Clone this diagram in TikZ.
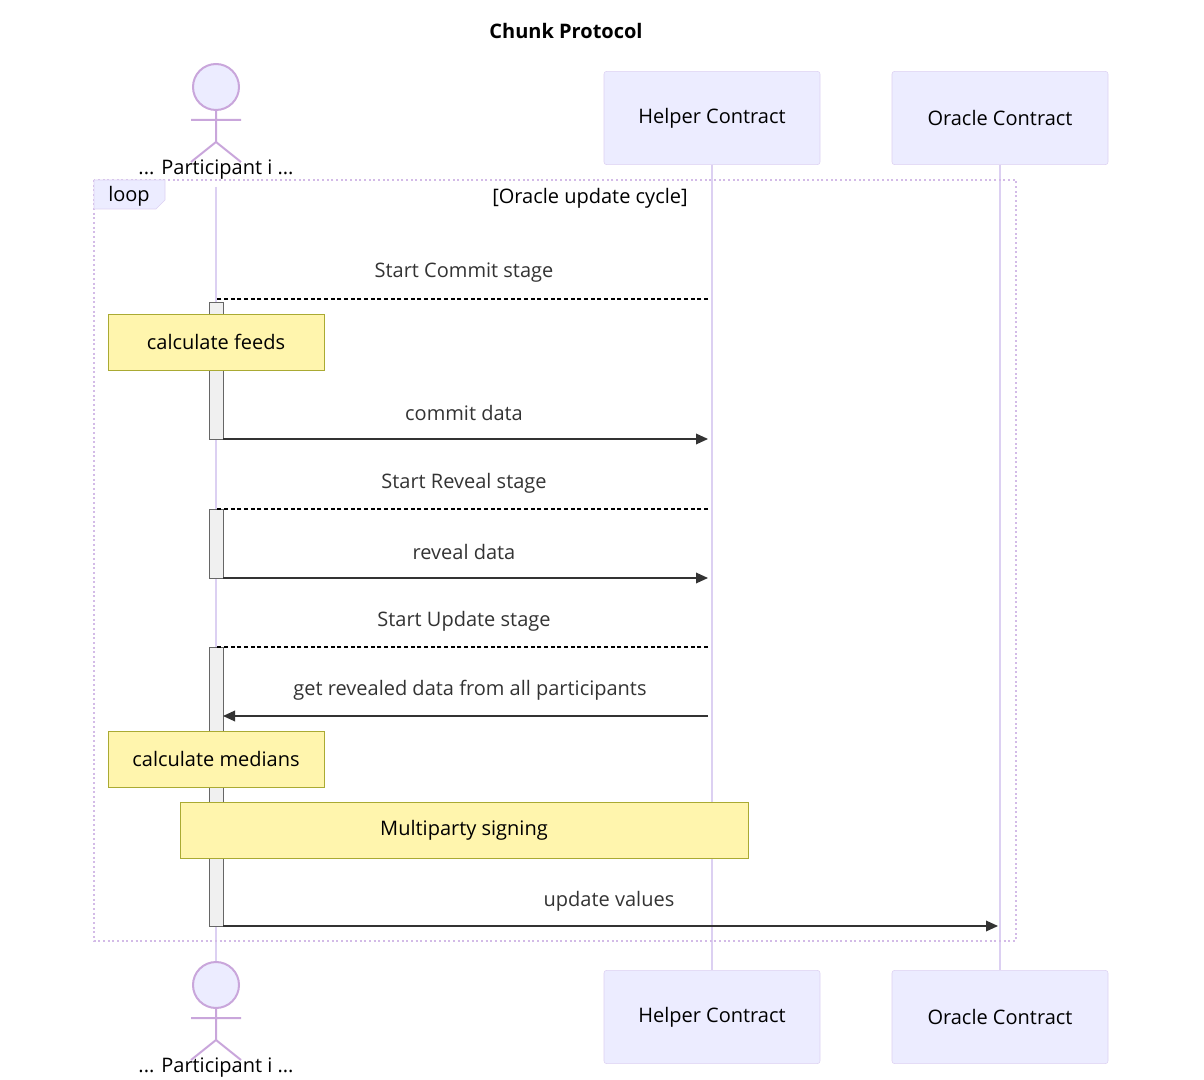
\documentclass[tikz,border=0pt]{standalone}
\usepackage{fontspec}
\setmainfont{Open Sans}
\usetikzlibrary{arrows.meta,positioning}
\definecolor{lifeC}{HTML}{DCD0F2}
\definecolor{boxF}{HTML}{ECECFF}
\definecolor{noteF}{HTML}{FFF5AD}
\definecolor{noteD}{HTML}{AAAA33}
\definecolor{msgC}{HTML}{333333}
\begin{document}
\begin{tikzpicture}[x=0.75pt,y=-0.75pt]
\tikzset{
  actbox/.style={draw=lifeC,fill=boxF,rounded corners=2pt,minimum width=162pt,minimum height=70pt,font=\fontsize{15}{18}\selectfont,inner sep=0pt},
  note/.style={draw=noteD,fill=noteF,minimum height=42pt,font=\fontsize{15}{18}\selectfont,inner sep=0pt},
  life/.style={draw=lifeC,line width=1.5pt},
  msg/.style={draw=msgC,line width=1pt,-{Triangle[length=9pt,width=8pt]}},
  ret/.style={draw=black,line width=0.8pt,dash pattern=on 3pt off 2pt},
  lbl/.style={font=\fontsize{15}{18}\selectfont,text=msgC},
  act/.style={draw=gray!80!black,fill=gray!12,line width=0.7pt}
}
\useasboundingbox (0,0) rectangle (1204,1080);
\node[font=\bfseries\fontsize{15}{18}\selectfont] (title) at (566,31) {Chunk Protocol};
% lifelines
\draw[life] (216,187) -- (216,965);
\draw[life] (712,165) -- (712,970);
\draw[life] (1000,165) -- (1000,970);
% participants
\node[actbox] (helperT) at (712,118) {Helper Contract};
\node[actbox] (oracleT) at (1000,118) {Oracle Contract};
\node[actbox] (helperB) at (712,1017) {Helper Contract};
\node[actbox] (oracleB) at (1000,1017) {Oracle Contract};
\foreach \y/\n in {87/partT,985/partB} {
  \draw[draw=lifeC!80!violet,fill=boxF,line width=1.5pt] (216,\y) circle (23);
  \draw[draw=lifeC!80!violet,line width=1.5pt] (216,\y+23) -- (216,\y+55) (191,\y+33) -- (241,\y+33)
    (191,\y+75) -- (216,\y+55) -- (241,\y+75);
  \node[font=\fontsize{15}{18}\selectfont] (\n) at (216,\y+83) {... Participant i ...};
}
% loop frame
\draw[lifeC!90!violet,line width=1.5pt,dotted] (94,180) rectangle (1016,941);
\draw[draw=lifeC,fill=boxF] (94,180) -- (165,180) -- (165,200) -- (156,209) -- (94,209) -- cycle;
\node[font=\fontsize{15}{18}\selectfont] (loop) at (129,196) {loop};
\node[font=\fontsize{15}{18}\selectfont] (cycle) at (590,198) {[Oracle update cycle]};
% activations
\draw[act] (209,302) rectangle (223,439);
\draw[act] (209,509) rectangle (223,578);
\draw[act] (209,647) rectangle (223,926);
% coordinates for messages
\foreach \y in {299,439,509,578,647,716,926} {
  \coordinate (h\y) at (708,\y);
  \coordinate (p\y) at (223,\y);
}
\coordinate (o926) at (998,926);
\draw[ret] (h299) -- (216,299);
\node[lbl] (m1) at (464,273) {Start Commit stage};
\node[note,minimum width=162pt] (feeds) at (216,342) {calculate feeds};
\draw[msg] (p439) -- (h439);
\node[lbl] (m2) at (464,413) {commit data};
\draw[ret] (h509) -- (216,509);
\node[lbl] (m3) at (464,483) {Start Reveal stage};
\draw[msg] (p578) -- (h578);
\node[lbl] (m4) at (464,552) {reveal data};
\draw[ret] (h647) -- (216,647);
\node[lbl] (m5) at (464,621) {Start Update stage};
\draw[msg] (h716) -- (p716);
\node[lbl] (m6) at (470,690) {get revealed data from all participants};
\node[note,minimum width=162pt] (medians) at (216,759) {calculate medians};
\node[note,minimum width=426pt] (signing) at (464,830) {Multiparty signing};
\draw[msg] (p926) -- (o926);
\node[lbl] (m7) at (609,901) {update values};
\end{tikzpicture}
\end{document}
